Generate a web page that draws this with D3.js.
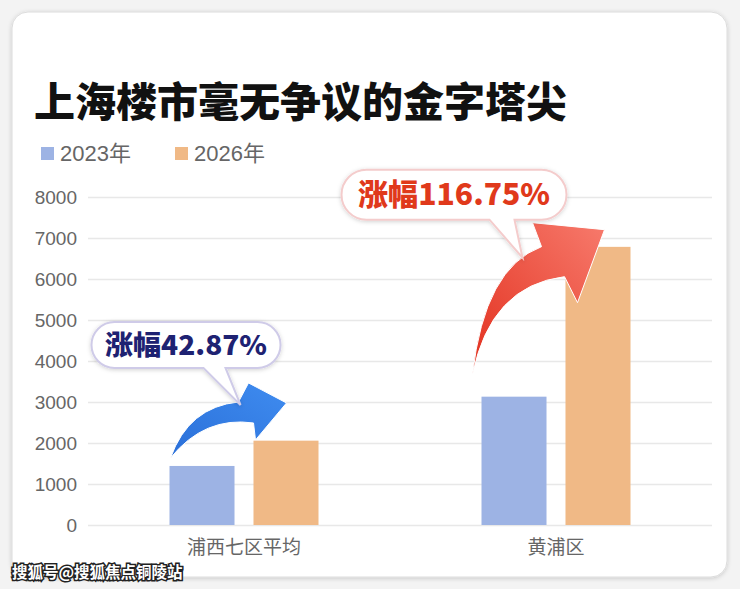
<!DOCTYPE html>
<html>
<head>
<meta charset="utf-8">
<script src="https://cdn.jsdelivr.net/npm/d3@7"></script>
<style>
  html, body { margin: 0; padding: 0; background: #f3f3f3; }
  svg { display: block; }
</style>
</head>
<body>
<div id="chart"></div>
<script>
// chart data
const categories = ["浦西七区平均", "黄浦区"];
const seriesNames = ["2023年", "2026年"];
const values2023 = [1440, 3130];
const values2026 = [2057, 6784];
const yTicks = [0, 1000, 2000, 3000, 4000, 5000, 6000, 7000, 8000];
const growthLabels = ["涨幅42.87%", "涨幅116.75%"];

const title = "上海楼市毫无争议的金字塔尖";
const watermark = "搜狐号@搜狐焦点铜陵站";

const W = 740, H = 589;
const colors = ["#9db3e4", "#f0b986"];
const latin = "'Liberation Sans', Arial, 'Noto Sans CJK SC', sans-serif";
const cjk = "'Noto Sans CJK SC', 'Noto Sans CJK JP', sans-serif";

const svg = d3.select("#chart")
  .append("svg")
    .attr("width", W)
    .attr("height", H);

const defs = svg.append("defs");

// soft shadow for card and bubbles
const shadow = defs.append("filter").attr("id", "shadow")
  .attr("x", "-20%").attr("y", "-20%").attr("width", "140%").attr("height", "140%");
shadow.append("feDropShadow")
  .attr("dx", 0).attr("dy", 1).attr("stdDeviation", 2)
  .attr("flood-color", "#000").attr("flood-opacity", 0.18);

const blueGrad = defs.append("linearGradient").attr("id", "blueGrad")
  .attr("x1", "0%").attr("y1", "100%").attr("x2", "100%").attr("y2", "0%");
blueGrad.append("stop").attr("offset", "0%").attr("stop-color", "#2a6fd8");
blueGrad.append("stop").attr("offset", "100%").attr("stop-color", "#3f8cf0");

const redGrad = defs.append("linearGradient").attr("id", "redGrad")
  .attr("x1", "0%").attr("y1", "100%").attr("x2", "100%").attr("y2", "0%");
redGrad.append("stop").attr("offset", "0%").attr("stop-color", "#e2301e");
redGrad.append("stop").attr("offset", "100%").attr("stop-color", "#f77a6c");

// card
svg.append("rect")
  .attr("x", 12).attr("y", 12)
  .attr("width", 715).attr("height", 565)
  .attr("rx", 16)
  .attr("fill", "#fff")
  .attr("stroke", "#dcdcdc")
  .attr("filter", "url(#shadow)");

// title
svg.append("text")
  .attr("x", 34).attr("y", 117)
  .attr("font-family", cjk)
  .attr("font-weight", 900)
  .attr("font-size", 41)
  .attr("fill", "#111")
  .text(title);

// legend
const legend = svg.append("g")
  .selectAll("g")
  .data(seriesNames)
  .join("g")
    .attr("transform", (d, i) => `translate(${41 + i * 134}, 147)`);
legend.append("rect")
  .attr("width", 13).attr("height", 13)
  .attr("fill", (d, i) => colors[i]);
legend.append("text")
  .attr("x", 19).attr("y", 14)
  .attr("font-family", latin)
  .attr("font-size", 22)
  .attr("fill", "#666")
  .text(d => d);

// scales
const plotLeft = 88, plotRight = 712;
const y = d3.scaleLinear()
  .domain([0, 8000])
  .range([525, 197]);

const x0 = d3.scaleBand()
  .domain(categories)
  .range([plotLeft, plotRight]);

const groupW = 149;
const x1 = d3.scaleBand()
  .domain(seriesNames)
  .range([x0.bandwidth() / 2 - groupW / 2, x0.bandwidth() / 2 + groupW / 2])
  .paddingInner(0.226);

// Y axis with gridlines
const yAxis = svg.append("g")
  .attr("transform", `translate(${plotLeft}, 0)`)
  .call(d3.axisLeft(y).tickValues(yTicks).tickFormat(d3.format("d"))
    .tickSize(-(plotRight - plotLeft)).tickPadding(11));
yAxis.select(".domain").remove();
yAxis.selectAll(".tick line").attr("stroke", "#e8e8e8").attr("stroke-width", 1.3);
yAxis.selectAll(".tick text")
  .attr("font-family", latin)
  .attr("font-size", 19)
  .attr("fill", "#666");

// X axis labels
const xAxis = svg.append("g")
  .attr("transform", `translate(0, ${y(0)})`)
  .call(d3.axisBottom(x0).tickSize(0).tickPadding(16));
xAxis.select(".domain").remove();
xAxis.selectAll(".tick text")
  .attr("font-family", cjk)
  .attr("font-size", 19)
  .attr("fill", "#666");

// bars
const rows = categories.map((c, i) => ({ cat: c, vals: [values2023[i], values2026[i]] }));
const groups = svg.append("g")
  .selectAll("g")
  .data(rows)
  .join("g")
    .attr("transform", d => `translate(${x0(d.cat)}, 0)`);
groups.selectAll("rect")
  .data(d => d.vals.map((v, i) => ({ s: seriesNames[i], v, i })))
  .join("rect")
    .attr("x", d => x1(d.s))
    .attr("y", d => y(d.v))
    .attr("width", x1.bandwidth())
    .attr("height", d => y(0) - y(d.v))
    .attr("fill", d => colors[d.i]);

// annotation shapes, offsets relative to the top-left of the 2023 bar
const annoStyle = [
  {
    arrowFill: "url(#blueGrad)", textFill: "#1e2272", bubbleStroke: "#cfcbe8",
    fontSize: 27, textLen: 162,
    tail: [1, -8], upC: [19, -59], upJ: [69, -64], headA: [79, -83], tip: [117, -63],
    headB: [86, -26], lowJ: [84, -43], lowC: [35, -50],
    box: [-78, -144, 111, -98], tb: [34, 56], ttip: [71, -61]
  },
  {
    arrowFill: "url(#redGrad)", textFill: "#e0391b", bubbleStroke: "#f4cccc",
    fontSize: 30, textLen: 192,
    tail: [-9, -22], upC: [3, -129], upJ: [60, -150], headA: [51, -174], tip: [123, -167],
    headB: [96, -94], lowJ: [83, -120], lowC: [9, -111],
    box: [-140, -227, 85, -177], tb: [8, 33], ttip: [41, -139]
  }
];

function bubblePath(b, tb, ttip, ox, oy) {
  const x0b = ox + b[0], y0b = oy + b[1], x1b = ox + b[2], y1b = oy + b[3];
  const r = (y1b - y0b) / 2;
  return `M${x0b + r},${y0b} H${x1b - r} A${r},${r} 0 0 1 ${x1b - r},${y1b}` +
    ` H${ox + tb[1]} L${ox + ttip[0]},${oy + ttip[1]} L${ox + tb[0]},${y1b}` +
    ` H${x0b + r} A${r},${r} 0 0 1 ${x0b + r},${y0b} Z`;
}

rows.forEach((row, i) => {
  const st = annoStyle[i];
  const ox = x0(row.cat) + x1(seriesNames[0]);
  const oy = y(row.vals[0]);
  const p = a => `${ox + a[0]},${oy + a[1]}`;
  const g = svg.append("g");

  // curved arrow
  g.append("path")
    .attr("d", `M${p(st.tail)} Q${p(st.upC)} ${p(st.upJ)} L${p(st.headA)} L${p(st.tip)}` +
      ` L${p(st.headB)} L${p(st.lowJ)} Q${p(st.lowC)} ${p(st.tail)} Z`)
    .attr("fill", st.arrowFill)
    .attr("stroke", "#fff")
    .attr("stroke-width", 1)
    .attr("stroke-linejoin", "round");

  // speech bubble
  g.append("path")
    .attr("d", bubblePath(st.box, st.tb, st.ttip, ox, oy))
    .attr("fill", "#fff")
    .attr("stroke", st.bubbleStroke)
    .attr("stroke-width", 2)
    .attr("filter", "url(#shadow)");

  g.append("text")
    .attr("x", ox + (st.box[0] + st.box[2]) / 2)
    .attr("y", oy + (st.box[1] + st.box[3]) / 2)
    .attr("dy", "0.36em")
    .attr("text-anchor", "middle")
    .attr("font-family", cjk)
    .attr("font-weight", 900)
    .attr("font-size", st.fontSize)
    .attr("textLength", st.textLen)
    .attr("lengthAdjust", "spacingAndGlyphs")
    .attr("fill", st.textFill)
    .text(growthLabels[i]);
});

// watermark
svg.append("text")
  .attr("x", 12).attr("y", 578)
  .attr("font-family", cjk)
  .attr("font-weight", 700)
  .attr("font-size", 15.5)
  .attr("fill", "#fff")
  .attr("stroke", "#222")
  .attr("stroke-width", 3)
  .attr("paint-order", "stroke")
  .text(watermark);
</script>
</body>
</html>
